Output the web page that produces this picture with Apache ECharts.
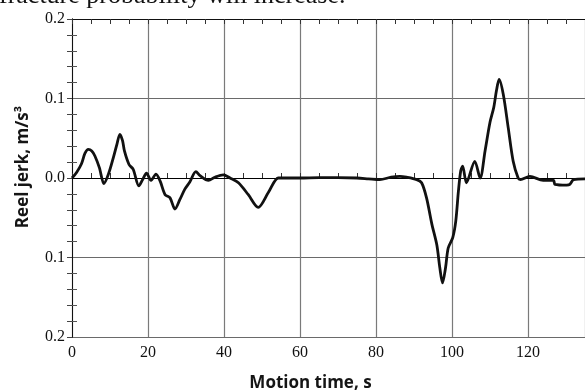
<!DOCTYPE html>
<html>
<head>
<meta charset="utf-8">
<script src="https://cdn.jsdelivr.net/npm/echarts@6/dist/echarts.min.js"></script>
<style>
html,body{margin:0;padding:0;background:#fff;}
#chart{width:585px;height:392px;}
</style>
</head>
<body>
<div id="chart"></div>
<script>
const captionText = 'fracture probability will increase.';
const xAxisTitle = 'Motion time, s';
const yAxisTitle = 'Reel jerk, m/s³';
const xTicks = [0, 20, 40, 60, 80, 100, 120];
const yTicks = [-0.2, -0.1, 0.0, 0.1, 0.2];

const timeSec = [0, 1.2, 2.5, 3.4, 4.3, 5.2, 6, 7.2, 8.4, 9.6, 10.9, 11.8, 12.6, 13.3, 13.8, 15, 16.1, 17.6, 18.6, 19.6,
  20.8, 22.1, 23.2, 24.5, 25.8, 27.1, 28.4, 29.7, 31, 32.6, 33.7, 35.9, 37.6, 39.8, 41.6, 43.8, 46.4, 49, 51.7, 54.3,
  56, 60, 65, 70, 75, 78, 81, 84, 86.3, 88, 90.7, 92, 93.3, 94.7, 96, 96.8, 97.5, 98.3, 99, 100.2,
  101, 101.7, 102.3, 102.8, 103.8, 106, 107.4, 108.7, 110, 111, 111.7, 112.4, 113.5, 114.8, 116.1, 117.4, 118, 120.5, 124, 126.7,
  127.1, 130.2, 131, 132, 135];
const reelJerk = [0, 0.007, 0.018, 0.031, 0.036, 0.034, 0.028, 0.013, -0.007, 0.005, 0.026, 0.042, 0.055, 0.047, 0.034, 0.017, 0.011, -0.010, -0.002, 0.006,
  -0.003, 0.005, -0.004, -0.021, -0.025, -0.039, -0.027, -0.014, -0.005, 0.008, 0.003, -0.003, 0.001, 0.004, 0, -0.006, -0.021, -0.037, -0.018, 0,
  0, 0, 0.0005, 0.0005, 0, -0.001, -0.002, 0.001, 0.002, 0.001, -0.002, -0.006, -0.025, -0.058, -0.084, -0.113, -0.132, -0.113, -0.088, -0.075,
  -0.054, -0.016, 0.009, 0.015, -0.006, 0.021, 0.0, 0.034, 0.07, 0.089, 0.11, 0.124, 0.105, 0.063, 0.021, 0, -0.002, 0.002, -0.003, -0.003,
  -0.008, -0.009, -0.008, -0.002, -0.001];

const X_MIN = 0, X_MAX = 135, Y_MIN = -0.2, Y_MAX = 0.2;
const serif = '"Liberation Serif", "Times New Roman", serif';
const sans = '"Open Sans", "Noto Sans", sans-serif';

const chart = echarts.init(document.getElementById('chart'), null, {renderer: 'canvas'});
const lineData = timeSec.map((t, i) => [t, reelJerk[i]]);

const baseX = {
  type: 'value', min: X_MIN, max: X_MAX, gridIndex: 0
};
const baseY = {
  type: 'value', min: Y_MIN, max: Y_MAX, gridIndex: 0
};

chart.setOption({
  animation: false,
  backgroundColor: '#fff',
  graphic: [{
    type: 'text', left: -1, top: -17,
    style: {text: captionText, font: '26px ' + serif, fill: '#111'}
  }],
  grid: {left: 72, right: 0, top: 19, bottom: 55, containLabel: false, outerBoundsMode: 'none'},
  xAxis: [
    Object.assign({}, baseX, {
      position: 'bottom', interval: 20,
      axisLine: {show: true, lineStyle: {color: '#111', width: 1}},
      axisTick: {show: false, inside: true},
      axisLabel: {show: true, showMaxLabel: false, color: '#111', fontFamily: serif, fontSize: 16, margin: 8,
        formatter: v => (xTicks.indexOf(v) >= 0 ? String(v) : '')},
      splitLine: {show: true, lineStyle: {color: '#7a7a7a', width: 1.2}},
      name: xAxisTitle, nameLocation: 'middle', nameGap: 38,
      nameTextStyle: {fontFamily: sans, fontWeight: 'bold', fontSize: 17, color: '#151515', padding: [0, 36, 0, 0]}
    }),
    Object.assign({}, baseX, {
      position: 'bottom', interval: 5,
      axisLine: {show: false},
      axisTick: {show: true, inside: true, length: 5, lineStyle: {color: '#333', width: 1}},
      axisLabel: {show: false}, splitLine: {show: false}
    }),
    Object.assign({}, baseX, {
      position: 'top', interval: 5,
      axisLine: {show: true, lineStyle: {color: '#111', width: 1}},
      axisTick: {show: true, inside: true, length: 5, lineStyle: {color: '#333', width: 1}},
      axisLabel: {show: false}, splitLine: {show: false}
    })
  ],
  yAxis: [
    Object.assign({}, baseY, {
      position: 'left', interval: 0.1,
      axisLine: {show: true, lineStyle: {color: '#111', width: 1}},
      axisTick: {show: false, inside: true},
      minorTick: {show: true, splitNumber: 5, length: 5, lineStyle: {color: '#555', width: 1}},
      axisLabel: {show: true, color: '#111', fontFamily: serif, fontSize: 16, margin: 7,
        formatter: v => Math.abs(v).toFixed(1)},
      splitLine: {show: true, lineStyle: {color: '#6a6a6a', width: 1.2}},
      name: yAxisTitle, nameLocation: 'middle', nameGap: 40, nameRotate: 90,
      nameTextStyle: {fontFamily: sans, fontWeight: 'bold', fontSize: 17, color: '#151515', padding: [0, 0, 0, 22]}
    }),
    Object.assign({}, baseY, {
      position: 'right', interval: 0.02,
      axisLine: {show: true, lineStyle: {color: '#111', width: 1}},
      axisTick: {show: true, inside: true, length: 5, lineStyle: {color: '#444', width: 1}},
      axisLabel: {show: false}, splitLine: {show: false}
    })
  ],
  series: [{
    type: 'line', xAxisIndex: 0, yAxisIndex: 0,
    data: lineData, showSymbol: false, smooth: 0.3,
    lineStyle: {color: '#111', width: 2.8},
    markLine: {
      silent: true, symbol: 'none', label: {show: false},
      lineStyle: {color: '#000', width: 1, type: 'solid'},
      data: [{yAxis: 0}]
    },
    z: 5
  }]
});
</script>
</body>
</html>
